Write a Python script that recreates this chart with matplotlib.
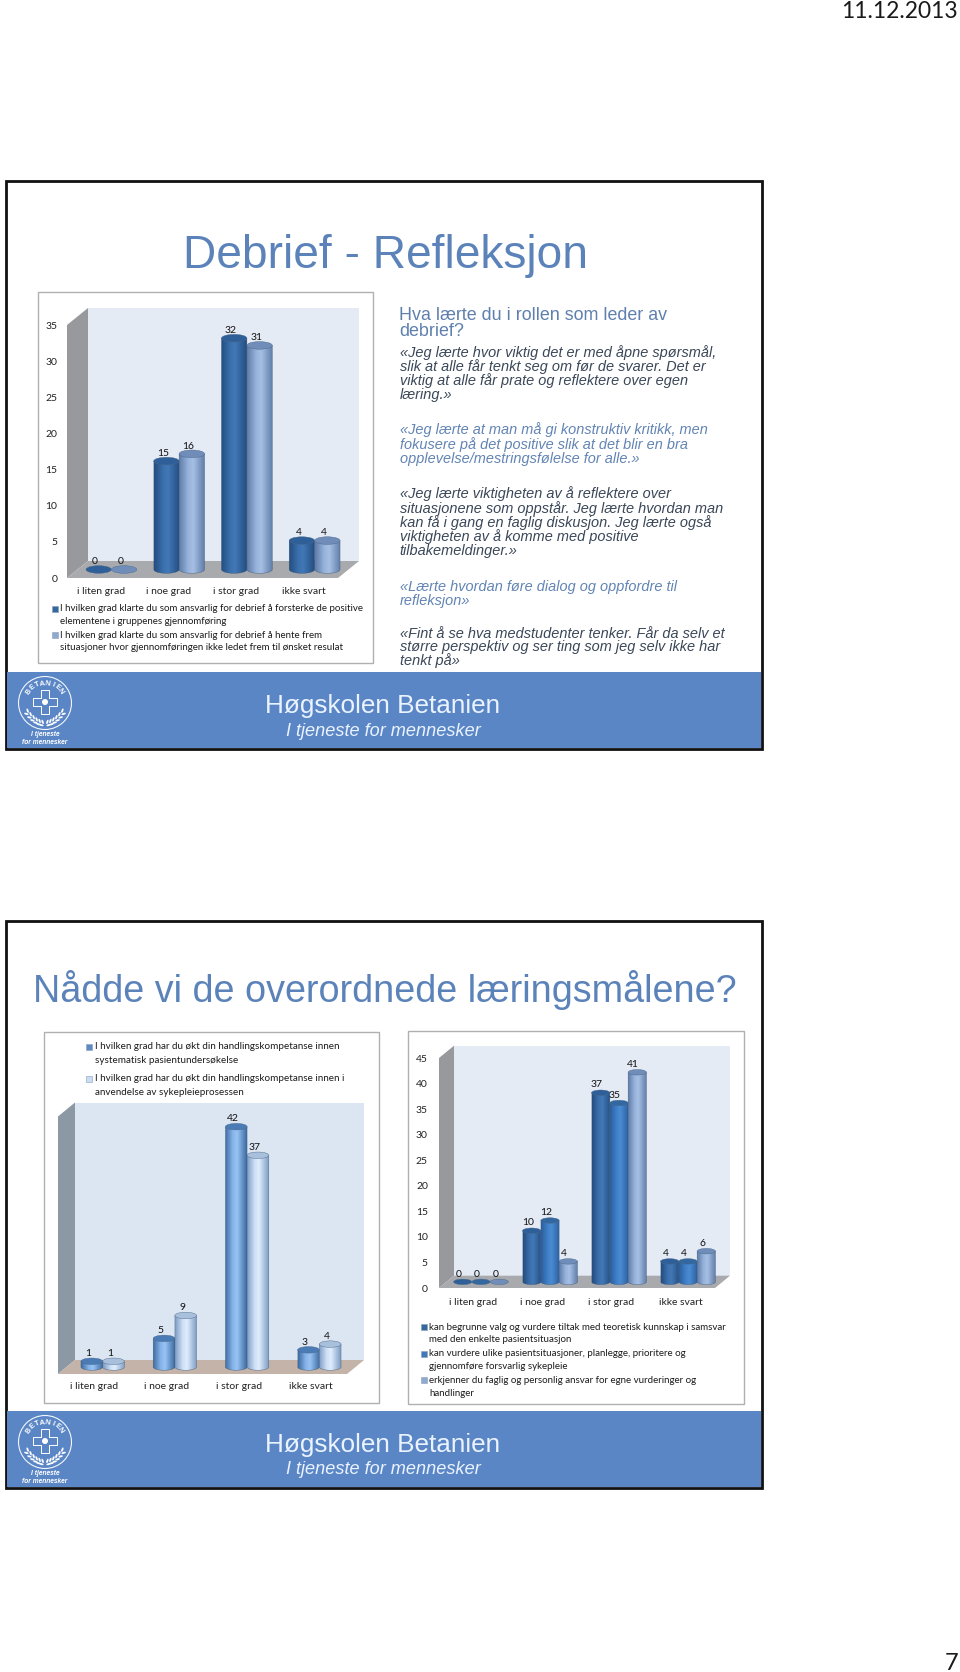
import numpy as np
import matplotlib
matplotlib.use("Agg")
import matplotlib.pyplot as plt
from matplotlib.colors import LinearSegmentedColormap
from matplotlib.font_manager import FontProperties
from matplotlib.patches import Ellipse, Polygon, Rectangle, Circle
from matplotlib.textpath import TextPath

W, H = 960, 1672

# ---------- data ----------
categories = ["i liten grad", "i noe grad", "i stor grad", "ikke svart"]

c1_series1 = [0, 15, 32, 4]
c1_series2 = [0, 16, 31, 4]
c1_ticks = [0, 5, 10, 15, 20, 25, 30, 35]
c1_legend = [["I hvilken grad klarte du som ansvarlig for debrief å forsterke de positive",
              "elementene i gruppenes gjennomføring"],
             ["I hvilken grad klarte du som ansvarlig for debrief å hente frem",
              "situasjoner hvor gjennomføringen ikke ledet frem til ønsket resulat"]]

c2_series1 = [1, 5, 42, 3]
c2_series2 = [1, 9, 37, 4]
c2_legend = [["I hvilken grad har du økt din handlingskompetanse innen",
              "systematisk pasientundersøkelse"],
             ["I hvilken grad har du økt din handlingskompetanse innen i",
              "anvendelse av sykepleieprosessen"]]

c3_series1 = [0, 10, 37, 4]
c3_series2 = [0, 12, 35, 4]
c3_series3 = [0, 4, 41, 6]
c3_ticks = [0, 5, 10, 15, 20, 25, 30, 35, 40, 45]
c3_legend = [["kan begrunne valg og vurdere tiltak med teoretisk kunnskap i samsvar",
              "med den enkelte pasientsituasjon"],
             ["kan vurdere ulike pasientsituasjoner, planlegge, prioritere og",
              "gjennomføre forsvarlig sykepleie"],
             ["erkjenner du faglig og personlig ansvar for egne vurderinger og",
              "handlinger"]]

title1 = "Debrief - Refleksjon"
title2 = "Nådde vi de overordnede læringsmålene?"
heading = ["Hva lærte du i rollen som leder av", "debrief?"]
quotes = [
    (["«Jeg lærte hvor viktig det er med åpne spørsmål,",
      "slik at alle får tenkt seg om før de svarer. Det er",
      "viktig at alle får prate og reflektere over egen",
      "læring.»"], [352.5, 366.5, 380.5, 395], "dark"),
    (["«Jeg lærte at man må gi konstruktiv kritikk, men",
      "fokusere på det positive slik at det blir en bra",
      "opplevelse/mestringsfølelse for alle.»"], [430, 444.5, 459], "blue"),
    (["«Jeg lærte viktigheten av å reflektere over",
      "situasjonene som oppstår. Jeg lærte hvordan man",
      "kan få i gang en faglig diskusjon. Jeg lærte også",
      "viktigheten av å komme med positive",
      "tilbakemeldinger.»"], [494, 508.5, 523, 537, 551], "dark"),
    (["«Lærte hvordan føre dialog og oppfordre til",
      "refleksjon»"], [587, 600.5], "blue"),
    (["«Fint å se hva medstudenter tenker. Får da selv et",
      "større perspektiv og ser ting som jeg selv ikke har",
      "tenkt på»"], [634, 647.5, 661], "dark"),
]

# ---------- helpers ----------
SANS = "Liberation Sans"
CAL = "Lato"
BLUE_T = "#5b83ba"
BAND = "#5a86c6"
QCOL = {"dark": "#3a4758", "blue": "#6284b4"}


def fit(s, target, family=SANS, style="normal"):
    fp = FontProperties(family=family, style=style)
    w = TextPath((0, 0), s, size=100, prop=fp).get_extents().width
    return 100 * target * 0.72 / w


fig = plt.figure(figsize=(W / 100, H / 100), dpi=100, facecolor="white")
bg = fig.add_axes([0, 0, 1, 1])
bg.set_xlim(0, W)
bg.set_ylim(H, 0)
bg.axis("off")


def px_axes(x0, x1, ytop, ybot, z=2):
    a = fig.add_axes([x0 / W, 1 - ybot / H, (x1 - x0) / W, (ybot - ytop) / H], zorder=z)
    a.patch.set_alpha(0)
    return a


def slide(top, bottom):
    bg.add_patch(Rectangle((6, top), 756, bottom - top, fc="white", ec="#111111", lw=2.0, zorder=1))
    bandtop = bottom - 77
    bg.add_patch(Rectangle((7.2, bandtop), 753.6, 76, fc=BAND, ec="none", zorder=1.1))
    cy = bandtop + 34
    t = "Høgskolen Betanien"
    bg.text(265, cy, t, fontsize=fit(t, 232), family=SANS, color="#eaf3ff", va="center", zorder=3)
    t = "I tjeneste for mennesker"
    bg.text(286, cy + 25, t, fontsize=fit(t, 194, style="italic"), family=SANS, style="italic",
            color="#eaf3ff", va="center", zorder=3)
    # logo
    lx, ly = 45, bottom - 46
    bg.add_patch(Circle((lx, ly), 26.5, fc="none", ec="#f2f6fc", lw=0.8, zorder=3))
    for i, ch in enumerate("BETANIEN"):
        ang = np.radians(144 - i * 15.4)
        bg.text(lx + 19.5 * np.cos(ang), ly - 19.5 * np.sin(ang), ch, fontsize=5.2, family=SANS,
                weight="bold", color="white", rotation=np.degrees(ang) - 90,
                ha="center", va="center", zorder=3)
    s = 12
    a = 4
    cross = [(-a, -s), (a, -s), (a, -a), (s, -a), (s, a), (a, a), (a, s), (-a, s), (-a, a),
             (-s, a), (-s, -a), (-a, -a)]
    bg.add_patch(Polygon([(lx + p, ly - 1 + q) for p, q in cross], closed=True, fc="none", ec="white",
                         lw=0.7, zorder=3))
    bg.add_patch(Circle((lx, ly - 1), 3, fc="white", ec="none", zorder=3))
    for side in (-1, 1):
        for k in range(6):
            ex = lx + side * (3 + k * 3.0)
            ey = ly + 20.5 - k * 0.6 - k * k * 0.33
            for off, rot in ((-1.6, 70), (1.6, 15)):
                bg.add_patch(Ellipse((ex + side * off * 0.4, ey + off), 4.6, 1.9,
                                     angle=side * -rot, fc="white", ec="none", zorder=3))
    bg.text(lx, bottom - 14.5, "I tjeneste", fontsize=4.8, family=SANS, style="italic", weight="bold",
            color="white", ha="center", va="center", zorder=3)
    bg.text(lx, bottom - 6.5, "for mennesker", fontsize=4.8, family=SANS, style="italic", weight="bold",
            color="white", ha="center", va="center", zorder=3)


def chart(box, front, depth, base_ymax, cats, series, cmaps, topcols, bw, wall_cols,
          ticks=None, tick_x=None, cat_y=None, lab_size=8.0, lab_dx=-3.5):
    """box=(x0,x1,y0,y1); front=(x0,x1,ytop,ybase); depth=(dx,dy) full 3D depth."""
    bg.add_patch(Rectangle((box[0], box[2]), box[1] - box[0], box[3] - box[2], fc="white",
                           ec="#b0b0b0", lw=1.0, zorder=1.2))
    fx0, fx1, fyt, fyb = front
    dx, dy = depth
    back, side, floor = wall_cols
    bg.add_patch(Polygon([(fx0 + dx, fyt - dy), (fx1 + dx, fyt - dy), (fx1 + dx, fyb - dy), (fx0 + dx, fyb - dy)],
                         fc=back, ec="none", zorder=1.3))
    bg.add_patch(Polygon([(fx0, fyt), (fx0 + dx, fyt - dy), (fx0 + dx, fyb - dy), (fx0, fyb)],
                         fc=side, ec="none", zorder=1.4))
    bg.add_patch(Polygon([(fx0, fyb), (fx0 + dx, fyb - dy), (fx1 + dx, fyb - dy), (fx1, fyb)],
                         fc=floor, ec="none", zorder=1.4))
    # front plane axes: carries the value ticks and category labels
    axf = px_axes(fx0, fx1, fyt, fyb)
    axf.set_xlim(-0.5, len(cats) - 0.5)
    axf.set_ylim(0, base_ymax)
    for sp in axf.spines.values():
        sp.set_visible(False)
    axf.set_xticks(range(len(cats)))
    axf.set_xticklabels(cats, family=CAL, fontsize=lab_size, color="#222222")
    axf.tick_params(axis="x", length=0, pad=cat_y)
    if ticks is None:
        axf.set_yticks([])
    else:
        axf.set_yticks(ticks)
        axf.set_yticklabels([str(t) for t in ticks], family=CAL, fontsize=lab_size, color="#222222")
        axf.tick_params(axis="y", length=0, pad=tick_x)
    # mid-depth plane axes: carries the cylinders
    axm = px_axes(fx0 + dx / 2, fx1 + dx / 2, fyt - dy / 2, fyb - dy / 2, z=3)
    axm.axis("off")
    n = len(series)
    pxu = (fyb - fyt) / base_ymax
    eh = (bw * (fx1 - fx0) / len(cats)) * 0.30 / pxu
    for i in range(len(cats)):
        for j, vals in enumerate(series):
            v = vals[i]
            xc = i + (j - (n - 1) / 2) * bw
            z = 3 + i + j * 0.1
            xl, xr = xc - bw / 2, xc + bw / 2
            th = np.linspace(np.pi, 2 * np.pi, 40)
            if v > 0:
                verts = [(xl, v)] + [(xc + bw / 2 * np.cos(t), eh / 2 * np.sin(t)) for t in th] + \
                        [(xr, v), (xl, v)]
                p = Polygon(verts, closed=True, fc="none", ec="none", transform=axm.transData)
                p.set_clip_on(False)
                axm.add_patch(p)
                im = axm.imshow(np.linspace(0, 1, 64)[None, :], extent=[xl, xr, -eh, v], aspect="auto",
                                cmap=cmaps[j], zorder=z, interpolation="bilinear")
                im.set_clip_box(fig.bbox)
                im.set_clip_path(p)
                axm.add_patch(Polygon(verts, closed=True, fc="none", ec="#35506f", lw=0.35, alpha=.7,
                                      zorder=z + .01, clip_on=False))
            axm.add_patch(Ellipse((xc, v), bw, eh, fc=topcols[j], ec="#4b688c", lw=0.3, zorder=z + .02,
                                  clip_on=False))
            axm.annotate(str(v), (xc, v), xytext=(lab_dx * 0.72, 5.6), textcoords="offset points",
                         ha="center", va="center", family=CAL, fontsize=lab_size, color="#111111",
                         zorder=30)
    axm.set_xlim(-0.5, len(cats) - 0.5)
    axm.set_ylim(0, base_ymax)


def legend(rows, x_text, x_mark, ys, size, cols):
    k = 0
    for i, lines in enumerate(rows):
        for j, line in enumerate(lines):
            bg.text(x_text, ys[k], line, family=CAL, fontsize=size, color="#1c1c1c", va="center", zorder=4)
            if j == 0:
                bg.add_patch(Rectangle((x_mark, ys[k] - 3), 6, 6, fc=cols[i], ec="#8aa0bb", lw=0.4, zorder=4))
            k += 1


def cyl(edge, mid, hi):
    return LinearSegmentedColormap.from_list("c", [(0, edge), (0.35, mid), (0.55, hi), (1, edge)])


# ---------- page ----------
bg.text(958, 11, "11.12.2013", family=CAL, fontsize=fit("11.12.2013", 113, CAL), ha="right", va="center",
        color="#1a1a1a", zorder=5)
bg.text(958, 1664, "7", family=CAL, fontsize=17, ha="right", va="center", color="#1a1a1a", zorder=5)

# ---------- slide 1 ----------
slide(181, 749)
bg.text(183, 256.5, title1, family=SANS, fontsize=fit(title1, 398), color=BLUE_T, va="center", zorder=3)
hs = fit(heading[0], 265.5)
for s, y in zip(heading, [315, 332]):
    bg.text(399, y, s, family=SANS, fontsize=hs, color="#5f80ae", va="center", zorder=3)
qs = fit(quotes[0][0][0], 314, style="italic")
for lines, ys, c in quotes:
    for s, y in zip(lines, ys):
        bg.text(399.5, y, s, family=SANS, style="italic", fontsize=qs, color=QCOL[c], va="center", zorder=3)

labsize = fit("i liten grad", 46.5, CAL)
navy = cyl("#244d80", "#3a70ad", "#4178b6")
pale = cyl("#5f7ca8", "#97b3dc", "#a6bfe4")
wall1 = ("#e5ebf5", "#98999d", "#a9aaad")
chart((38, 373, 292, 663), (67, 338, 325, 578), (21, 17), 35, categories,
      [c1_series1, c1_series2], [navy, pale], ["#2f5f98", "#6f8db8"], 0.375, wall1,
      ticks=c1_ticks, tick_x=7, cat_y=6.5, lab_size=labsize)
lg1 = fit(c1_legend[0][0], 304.7, CAL)
legend(c1_legend, 60.5, 52, [608.5, 622, 635, 648], lg1, ["#35679f", "#8fa9cf"])

# ---------- slide 2 ----------
slide(920.5, 1488)
bg.text(33, 990, title2, family=SANS, fontsize=fit(title2, 698), color=BLUE_T, va="center", zorder=3)

blue = cyl("#3d6ca3", "#86b3e8", "#98c3f4")
ice = cyl("#7e9cc4", "#cfe0f7", "#e0edfc")
wall2 = ("#dce6f2", "#8d98a5", "#c3b3a8")
chart((44, 379, 1031.5, 1403), (58, 347, 1116.5, 1374), (17, 14), 45, categories,
      [c2_series1, c2_series2], [blue, ice], ["#4a7bb5", "#a9c0dc"], 0.30, wall2,
      cat_y=6, lab_size=labsize)
lg2 = fit(c2_legend[0][0], 242, CAL)
legend(c2_legend, 94.7, 86, [1046.5, 1060.5, 1078.5, 1092.5], lg2, ["#5b8ac4", "#c9dcf3"])

mid = cyl("#2c5f9f", "#3f80c8", "#4a8bd2")
chart((408, 744, 1031, 1404), (439, 715, 1058, 1288), (15, 12.3), 45, categories,
      [c3_series1, c3_series2, c3_series3], [navy, mid, pale], ["#2f5f98", "#32689f", "#6f8db8"], 0.265, wall1,
      ticks=c3_ticks, tick_x=8, cat_y=7.5, lab_size=labsize, lab_dx=-4)
lg3 = fit(c3_legend[0][0], 298, CAL)
legend(c3_legend, 429.3, 420.7, [1327, 1340, 1353.7, 1366.7, 1380.3, 1393], lg3, ["#35679f", "#3f79b8", "#8fa9cf"])

fig.savefig("out.png", dpi=100, facecolor="white")
